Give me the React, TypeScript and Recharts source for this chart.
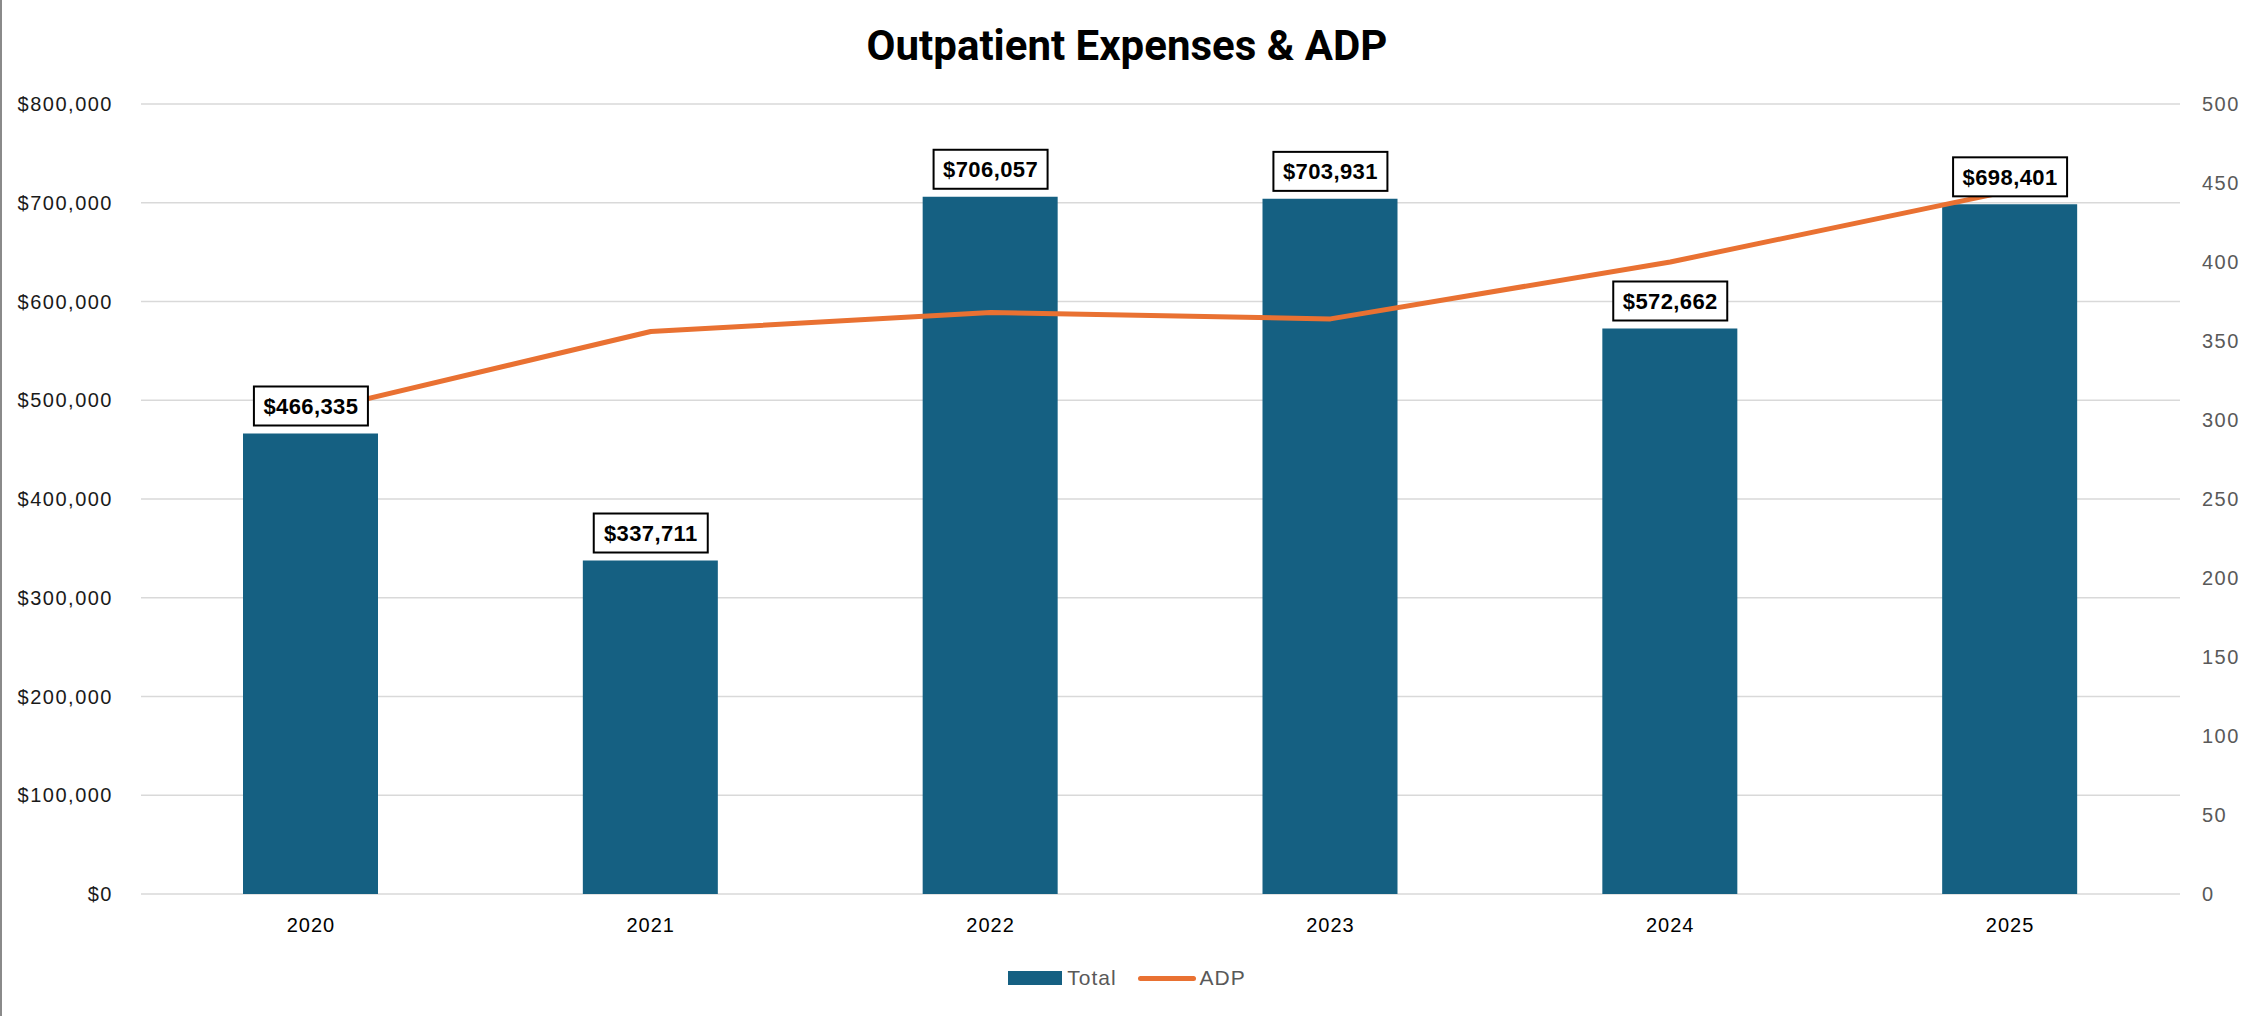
import React from "react";
import {
  ComposedChart,
  Bar,
  Line,
  XAxis,
  YAxis,
  CartesianGrid,
  Legend,
  LabelList,
} from "recharts";

const years = ["2020", "2021", "2022", "2023", "2024", "2025"];
const totals = [466335, 337711, 706057, 703931, 572662, 698401];
const adp = [305, 356, 368, 364, 400, 445];
const leftTicks = [0, 100000, 200000, 300000, 400000, 500000, 600000, 700000, 800000];
const rightTicks = [0, 50, 100, 150, 200, 250, 300, 350, 400, 450, 500];

const data = years.map((year, i) => ({ year, total: totals[i], adp: adp[i] }));

const BAR_COLOR = "#156082";
const LINE_COLOR = "#E97132";
const FONT = "'Liberation Sans', Arial, sans-serif";

const money = (v: number) => `$${v.toLocaleString("en-US")}`;

// boxed value label drawn above each bar
const ValueBox = (props: any) => {
  const { x, y, value } = props;
  if (x == null || y == null) return null;
  const w = 114;
  const h = 39;
  const top = y - 8 - h;
  return (
    <g>
      <rect
        x={x - w / 2}
        y={top}
        width={w}
        height={h}
        fill="#fff"
        stroke="#000"
        strokeWidth={2}
      />
      <text
        x={x}
        y={top + h / 2}
        dy="0.36em"
        textAnchor="middle"
        fontFamily={FONT}
        fontWeight="bold"
        fontSize={22}
        letterSpacing={0.4}
        fill="#000"
      >
        {money(value)}
      </text>
    </g>
  );
};

const renderLegend = (props: any) => {
  const items = (props.payload || [])
    .filter((p: any) => p.type !== "none")
    .sort((a: any, b: any) => (a.type === "line" ? 1 : 0) - (b.type === "line" ? 1 : 0));
  return (
    <div
      style={{
        display: "flex",
        justifyContent: "center",
        alignItems: "center",
        gap: 21,
        fontFamily: FONT,
        fontSize: 21,
        letterSpacing: 1,
        color: "#595959",
      }}
    >
      {items.map((item: any) => (
        <div key={item.value} style={{ display: "flex", alignItems: "center" }}>
          {item.type === "line" ? (
            <span
              style={{
                display: "inline-block",
                width: 58,
                height: 5,
                borderRadius: 3,
                background: LINE_COLOR,
                marginRight: 4,
              }}
            />
          ) : (
            <span
              style={{
                display: "inline-block",
                width: 54,
                height: 14,
                background: BAR_COLOR,
                marginRight: 5,
              }}
            />
          )}
          <span>{item.value}</span>
        </div>
      ))}
    </div>
  );
};

export default function App() {
  return (
    <div
      style={{
        position: "absolute",
        left: 0,
        top: 0,
        width: 2254,
        height: 1016,
        background: "#fff",
        overflow: "hidden",
      }}
    >
      <div
        style={{
          position: "absolute",
          left: 0,
          top: 0,
          width: 2,
          height: 1016,
          background: "#8a8a8a",
        }}
      />
      <div
        style={{
          position: "absolute",
          top: 25,
          left: 0,
          width: 2254,
          textAlign: "center",
          fontFamily: "Roboto, sans-serif",
          fontWeight: 700,
          fontSize: 42,
          lineHeight: "42px",
          color: "#000",
        }}
      >
        Outpatient Expenses &amp; ADP
      </div>
      <ComposedChart
        width={2254}
        height={1016}
        data={data}
        margin={{ top: 104, right: 0, bottom: 0, left: 0 }}
        style={{ fontFamily: FONT }}
      >
        <CartesianGrid vertical={false} stroke="#D9D9D9" strokeWidth={1.5} yAxisId="left" />
        <XAxis
          dataKey="year"
          axisLine={false}
          tickLine={false}
          height={122}
          tickMargin={18}
          tick={{ fill: "#000", fontSize: 20, letterSpacing: 1 }}
        />
        <YAxis
          yAxisId="left"
          orientation="left"
          domain={[0, 800000]}
          ticks={leftTicks}
          tickFormatter={money}
          axisLine={false}
          tickLine={false}
          width={141}
          tickMargin={22}
          tick={{ fill: "#1a1a1a", fontSize: 20, letterSpacing: 1.5 }}
        />
        <YAxis
          yAxisId="right"
          orientation="right"
          domain={[0, 500]}
          ticks={rightTicks}
          axisLine={false}
          tickLine={false}
          width={74}
          tickMargin={16}
          tick={{ fill: "#595959", fontSize: 20, letterSpacing: 1.5, textAnchor: "start" }}
        />
        <Bar
          yAxisId="left"
          dataKey="total"
          name="Total"
          fill={BAR_COLOR}
          barSize={135}
          isAnimationActive={false}
        />
        <Line
          yAxisId="right"
          type="linear"
          dataKey="adp"
          name="ADP"
          stroke={LINE_COLOR}
          strokeWidth={5}
          strokeLinecap="round"
          strokeLinejoin="round"
          dot={false}
          activeDot={false}
          isAnimationActive={false}
        />
        {/* invisible series on the left axis so the value boxes sit above the ADP line */}
        <Line
          yAxisId="left"
          dataKey="total"
          stroke="none"
          dot={false}
          activeDot={false}
          legendType="none"
          isAnimationActive={false}
        >
          <LabelList dataKey="total" content={ValueBox} />
        </Line>
        <Legend
          verticalAlign="middle"
          layout="horizontal"
          content={renderLegend}
          wrapperStyle={{ top: 966, left: 0, width: 2254, height: 28 }}
        />
      </ComposedChart>
    </div>
  );
}
